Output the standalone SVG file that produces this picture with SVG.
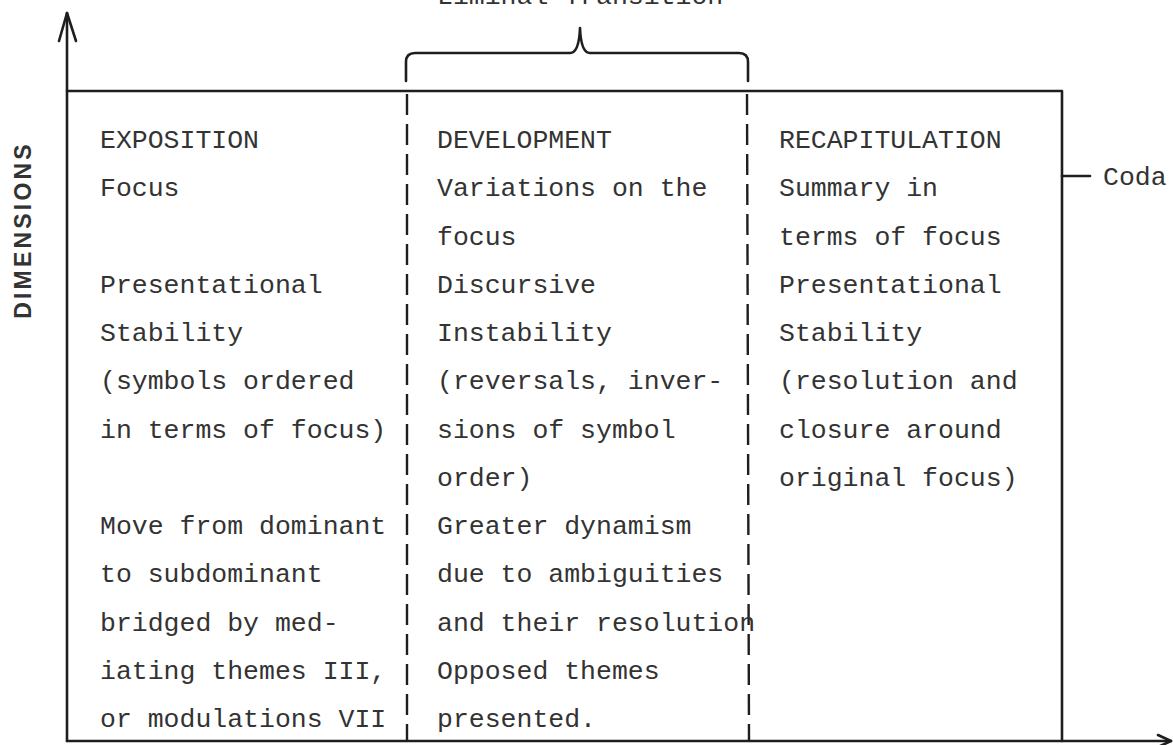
<svg xmlns="http://www.w3.org/2000/svg" width="1173" height="745" viewBox="0 0 1173 745">
<style>
.t{font-family:"Liberation Mono","Courier New",monospace;font-size:26.5px;fill:#333}
.ln{fill:none;stroke:#1e1e1e;stroke-width:2.6;stroke-linecap:round;stroke-linejoin:round}
.dash{fill:none;stroke:#1e1e1e;stroke-width:2.4;stroke-dasharray:21 9}
.lbl{font-family:"Liberation Sans",Arial,sans-serif;font-weight:bold;font-size:23px;fill:#333;letter-spacing:3.2px}
</style>
<rect width="1173" height="745" fill="#fff"/>
<g id="connectors">
<path class="ln" d="M67,741 L67,13"/>
<path class="ln" d="M59,41 L67,13 L76,41"/>
<path class="ln" d="M67,741 L1171,741"/>
<path class="ln" d="M1158,735 L1171,741 L1158,747"/>
<path class="ln" d="M67,91 L1062,91 L1062,741"/>
<path class="ln" d="M1062,176 L1090,176"/>
<path class="dash" d="M407,94 L407,741"/>
<path class="dash" d="M747,94 L749,741"/>
<path class="ln" d="M406,81 L406,62 Q406,53 415,53 L570,53 Q579,53 580,28 Q581,53 590,53 L739,53 Q748,53 748,62 L748,81"/>
</g>
<g id="liminal"><text class="t" x="437" y="4">Liminal Transition</text></g>
<g id="dimensions"><text class="lbl" transform="translate(31,230) rotate(-90)" text-anchor="middle">DIMENSIONS</text></g>
<g id="coda"><text class="t" x="1103" y="185">Coda</text></g>
<g id="exposition" class="t">
<text x="100" y="148">EXPOSITION</text>
<text x="100" y="196.25">Focus</text>
<text x="100" y="292.75">Presentational</text>
<text x="100" y="341">Stability</text>
<text x="100" y="389.25">(symbols ordered</text>
<text x="100" y="437.5">in terms of focus)</text>
<text x="100" y="534">Move from dominant</text>
<text x="100" y="582.25">to subdominant</text>
<text x="100" y="630.5">bridged by med-</text>
<text x="100" y="678.75">iating themes III,</text>
<text x="100" y="727">or modulations VII</text>
</g>
<g id="development" class="t">
<text x="437" y="148">DEVELOPMENT</text>
<text x="437" y="196.25">Variations on the</text>
<text x="437" y="244.5">focus</text>
<text x="437" y="292.75">Discursive</text>
<text x="437" y="341">Instability</text>
<text x="437" y="389.25">(reversals, inver-</text>
<text x="437" y="437.5">sions of symbol</text>
<text x="437" y="485.75">order)</text>
<text x="437" y="534">Greater dynamism</text>
<text x="437" y="582.25">due to ambiguities</text>
<text x="437" y="630.5">and their resolution</text>
<text x="437" y="678.75">Opposed themes</text>
<text x="437" y="727">presented.</text>
</g>
<g id="recapitulation" class="t">
<text x="779" y="148">RECAPITULATION</text>
<text x="779" y="196.25">Summary in</text>
<text x="779" y="244.5">terms of focus</text>
<text x="779" y="292.75">Presentational</text>
<text x="779" y="341">Stability</text>
<text x="779" y="389.25">(resolution and</text>
<text x="779" y="437.5">closure around</text>
<text x="779" y="485.75">original focus)</text>
</g>
</svg>
